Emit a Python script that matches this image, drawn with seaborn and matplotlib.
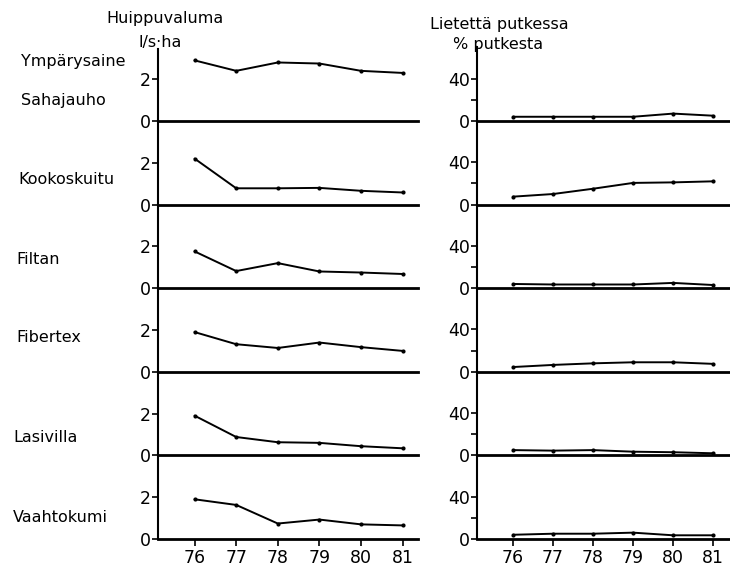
import matplotlib
matplotlib.use("Agg")
import matplotlib.pyplot as plt
import seaborn as sns
import pandas as pd

# Years of observation
years = [76, 77, 78, 79, 80, 81]

# Envelope materials (one row of panels each)
materials = ["Sahajauho", "Kookoskuitu", "Filtan", "Fibertex", "Lasivilla", "Vaahtokumi"]

# Peak runoff, l/s·ha
peak_sahajauho = [2.9, 2.4, 2.8, 2.75, 2.4, 2.3]
peak_kookoskuitu = [2.2, 0.78, 0.78, 0.8, 0.66, 0.58]
peak_filtan = [1.76, 0.82, 1.2, 0.8, 0.75, 0.68]
peak_fibertex = [1.9, 1.32, 1.14, 1.4, 1.18, 1.0]
peak_lasivilla = [1.9, 0.88, 0.63, 0.6, 0.44, 0.34]
peak_vaahtokumi = [1.9, 1.63, 0.74, 0.93, 0.7, 0.65]

# Sediment in the drain pipe, % of pipe
sed_sahajauho = [4, 4, 4, 4, 7, 5]
sed_kookoskuitu = [7.5, 10, 15, 20.5, 21, 22]
sed_filtan = [4, 3.5, 3.5, 3.5, 5, 3]
sed_fibertex = [4.5, 6.5, 8, 9, 9, 7.5]
sed_lasivilla = [5, 4.5, 5, 3.5, 3, 2]
sed_vaahtokumi = [4, 5, 5, 6, 3.5, 3.5]

peak = [peak_sahajauho, peak_kookoskuitu, peak_filtan,
        peak_fibertex, peak_lasivilla, peak_vaahtokumi]
sed = [sed_sahajauho, sed_kookoskuitu, sed_filtan,
       sed_fibertex, sed_lasivilla, sed_vaahtokumi]

rows = []
for name, p, s in zip(materials, peak, sed):
    for yr, pv, sv in zip(years, p, s):
        rows.append({"material": name, "year": yr, "peak": pv, "sediment": sv})
df = pd.DataFrame(rows)

sns.set_style("ticks")
plt.rcParams["font.family"] = ["DejaVu Sans"]
plt.rcParams["text.color"] = "black"
plt.rcParams["axes.edgecolor"] = "black"
plt.rcParams["xtick.color"] = "black"
plt.rcParams["ytick.color"] = "black"

W, H = 730, 572
fig = plt.figure(figsize=(W / 100, H / 100), dpi=100)

first_zero = 121.0
row_step = 83.6
panel_h = 83.6

left_x0, left_x1 = 158, 418
right_x0, right_x1 = 477, 730

tick_fs = 12.5
label_fs = 11.5


def make_axes(x0, x1, zero_px):
    bottom = 1 - zero_px / H
    return fig.add_axes([x0 / W, bottom, (x1 - x0) / W, panel_h / H])


label_y = [100, 180, 260, 338, 437, 518]
label_x = [21, 18, 16, 16, 13, 13]

for i, name in enumerate(materials):
    zero_px = first_zero + i * row_step
    sub = df[df["material"] == name]
    last = i == len(materials) - 1

    for col in range(2):
        if col == 0:
            ax = make_axes(left_x0, left_x1, zero_px)
            ycol = "peak"
            ax.set_xlim(75.12, 81.37)
            ax.set_ylim(0, 4.0)
            ax.set_yticks([0, 2])
            ax.set_yticklabels(["0", "2"])
            top_bound = 3.45
        else:
            ax = make_axes(right_x0, right_x1, zero_px)
            ycol = "sediment"
            ax.set_xlim(75.1, 81.42)
            ax.set_ylim(0, 79)
            ax.set_yticks([0, 40])
            ax.set_yticklabels(["0", "40"])
            ax.set_yticks([20], minor=True)
            top_bound = 70

        sns.lineplot(data=sub, x="year", y=ycol, ax=ax, color="black",
                     linewidth=1.4, marker="o", markersize=3,
                     markeredgewidth=0, legend=False)
        ax.patch.set_alpha(0)
        sns.despine(ax=ax, top=True, right=True)
        ax.spines["left"].set_linewidth(1.5)
        ax.spines["bottom"].set_linewidth(2.0)
        if i == 0:
            ax.spines["left"].set_bounds(0, top_bound)
        ax.set_xlabel("")
        ax.set_ylabel("")
        ax.tick_params(axis="y", which="major", length=4, width=1.2,
                       pad=1, labelsize=tick_fs)
        ax.tick_params(axis="y", which="minor", length=4, width=1.2)
        if last:
            ax.set_xticks(years)
            ax.set_xticklabels([str(y) for y in years])
            ax.tick_params(axis="x", length=5, width=1.2, pad=2,
                           labelsize=tick_fs)
        else:
            ax.set_xticks([])

    fig.text(label_x[i] / W, 1 - label_y[i] / H, name, fontsize=label_fs,
             ha="left", va="center")

fig.text(165 / W, 1 - 18 / H, "Huippuvaluma", fontsize=label_fs,
         ha="center", va="center")
fig.text(160 / W, 1 - 42 / H, "l/s·ha", fontsize=label_fs,
         ha="center", va="center")
fig.text(21 / W, 1 - 62 / H, "Ympärysaine", fontsize=label_fs,
         ha="left", va="center")
fig.text(430 / W, 1 - 25 / H, "Lietettä putkessa", fontsize=label_fs,
         ha="left", va="center")
fig.text(453 / W, 1 - 45 / H, "% putkesta", fontsize=label_fs,
         ha="left", va="center")

fig.savefig("out.png", dpi=100, facecolor="white")
